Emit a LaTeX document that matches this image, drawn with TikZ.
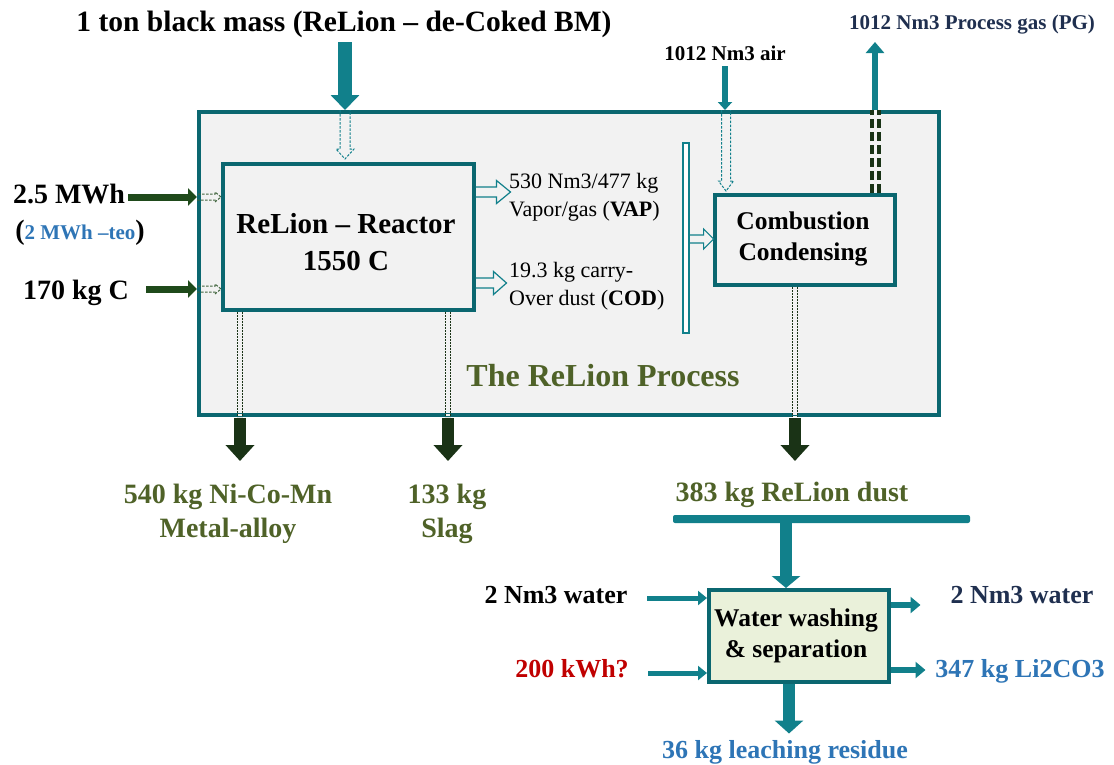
\documentclass[tikz,border=0pt]{standalone}
\usepackage{fontspec}
\setmainfont{Liberation Serif}
\usetikzlibrary{arrows.meta,calc}
\definecolor{tealA}{HTML}{11808B}
\definecolor{tealB}{HTML}{0B6770}
\definecolor{dgreen}{HTML}{1F4A1B}
\definecolor{dkgreen}{HTML}{1A3316}
\definecolor{olive}{HTML}{4F6228}
\definecolor{blueT}{HTML}{2E75B6}
\definecolor{navy}{HTML}{1F2F4F}
\definecolor{redT}{HTML}{C00000}
\definecolor{bgray}{HTML}{F2F2F2}
\definecolor{lgreen}{HTML}{EAF1DA}
\newcommand\hlwarrow[7][]{%
  \begin{scope}[shift={(#2)},rotate=#3]
    \draw[#1] (0,#5) -- ({#4-#7},#5) -- ({#4-#7},#6) -- (#4,0) -- ({#4-#7},-#6) -- ({#4-#7},-#5) -- (0,-#5);
  \end{scope}}
\begin{document}
\begin{tikzpicture}[x=1pt,y=-1pt,
  box/.style={draw=tealB, line width=3.5pt, fill=bgray, inner sep=0pt, anchor=north west},
  big/.style={inner sep=0pt, anchor=base, font=\bfseries\fontsize{28}{33}\selectfont},
  mid/.style={inner sep=0pt, anchor=base, font=\bfseries\fontsize{25.5}{30}\selectfont},
  lab/.style={inner sep=0pt, anchor=base, font=\bfseries\fontsize{21}{25}\selectfont},
  sml/.style={inner sep=0pt, anchor=base west, font=\fontsize{22}{26}\selectfont},
  tealflow/.style={draw=tealA},
  greenflow/.style={draw=dgreen},
  hollowline/.style={draw=tealA, line width=1.2pt},
  dashhollow/.style={draw=tealA, line width=1pt, dash pattern=on 2.5pt off 1.5pt},
  greendash/.style={draw=dgreen!85, line width=1pt, dash pattern=on 2.5pt off 1.5pt},
  ddline/.style={draw=dkgreen, line width=0.8pt, dash pattern=on 2pt off 1pt, double=bgray, double distance=4pt},
]
\useasboundingbox (0,0) rectangle (1114,764);

% boxes
\node[box, minimum width=740pt, minimum height=303pt] (outer) at (197,110) {};
\node[box, minimum width=251pt, minimum height=146pt] (reactor) at (221,162) {};
\node[box, minimum width=180pt, minimum height=90pt] (comb) at (713,193) {};
\node[box, fill=lgreen, minimum width=180pt, minimum height=92pt] (wash) at (707,588) {};
\node[draw=tealA, fill=white, line width=1.2pt, inner sep=0pt, minimum width=6pt, minimum height=190pt] (vbar) at (686,238) {};
\node[fill=tealA, inner sep=0pt, rounded corners=2pt, minimum width=297pt, minimum height=8pt] (hbar) at (821.5,519) {};

% texts in boxes
\node[big, font=\bfseries\fontsize{29}{34}\selectfont] (r1) at (346,233) {ReLion – Reactor};
\node[big, font=\bfseries\fontsize{29}{34}\selectfont] (r2) at (346,270) {1550 C};
\node[mid] (c1) at (803,229) {Combustion};
\node[mid] (c2) at (803,260) {Condensing};
\node[mid] (w1) at (796,626) {Water washing};
\node[mid] (w2) at (796,657) {\&\ separation};
\node[inner sep=0pt, anchor=base, text=olive, font=\bfseries\fontsize{32}{38}\selectfont] (proc) at (603,386) {The ReLion Process};

% outside texts
\node[big, font=\bfseries\fontsize{29.5}{35}\selectfont] (title) at (344,31) {1 ton black mass (ReLion – de-Coked BM)};
\node[lab] (air) at (725,60) {1012 Nm3 air};
\node[lab, anchor=base west, text=navy] (pg) at (849,29) {1012 Nm3 Process gas (PG)};
\node[big] (mwh) at (69,203) {2.5 MWh};
\node[inner sep=0pt, anchor=base, font=\bfseries\fontsize{28}{33}\selectfont] (teo) at (80,239) {({\color{blueT}\fontsize{21}{25}\selectfont 2 MWh –teo})};
\node[big] (carb) at (76,299) {170 kg C};
\node[sml] (v1) at (509,188) {530 Nm3/477 kg};
\node[sml] (v2) at (509,216) {Vapor/gas (\textbf{VAP})};
\node[sml] (d1) at (509,277) {19.3 kg carry-};
\node[sml] (d2) at (509,305) {Over dust (\textbf{COD})};
\node[big, text=olive] (m1) at (228,503) {540 kg Ni-Co-Mn};
\node[big, text=olive] (m2) at (228,537) {Metal-alloy};
\node[big, text=olive] (s1) at (447,503) {133 kg};
\node[big, text=olive] (s2) at (447,537) {Slag};
\node[big, text=olive] (dust) at (792,501) {383 kg ReLion dust};
\node[big, font=\bfseries\fontsize{26}{31}\selectfont] (win) at (556,603) {2 Nm3 water};
\node[big, font=\bfseries\fontsize{26}{31}\selectfont, text=redT] (kwh) at (572,677) {200 kWh?};
\node[big, font=\bfseries\fontsize{26}{31}\selectfont, text=navy] (wout) at (1022,603) {2 Nm3 water};
\node[big, font=\bfseries\fontsize{26}{31}\selectfont, text=blueT] (li) at (1020,677) {347 kg Li2CO3};
\node[big, font=\bfseries\fontsize{26}{31}\selectfont, text=blueT] (res) at (785,758) {36 kg leaching residue};

% coordinates for free ends
\coordinate (pgtop) at (875,42);
\coordinate (inA) at (128,197);
\coordinate (inB) at (146,289);

% solid thick arrows
\draw[tealflow, line width=14pt, -{Triangle[width=28pt,length=15pt]}] (title.south -| 345,0) ++(0,5) -- (outer.north -| 345,0);
\draw[tealflow, line width=6pt, -{Triangle[width=14pt,length=8pt]}] (air.south) ++(0,6) -- (air.south |- outer.north);
\draw[tealflow, line width=6pt, -{Triangle[width=18pt,length=11pt]}] (outer.north -| pgtop) -- (pgtop);
\draw[greenflow, line width=7pt, -{Triangle[width=17pt,length=9pt]}] (inA) -- (inA -| outer.west);
\draw[greenflow, line width=7pt, -{Triangle[width=17pt,length=9pt]}] (inB) -- (inB -| outer.west);
\foreach \xx in {240,448,795}{
  \draw[draw=dkgreen, line width=12pt, -{Triangle[width=28pt,length=16pt]}] (outer.south -| \xx,0) ++(0,1.5) -- ++(0,43);
}
\draw[tealflow, line width=12pt, -{Triangle[width=28pt,length=12pt]}] (hbar.south -| 786,0) -- (wash.north -| 786,0);
\draw[tealflow, line width=5pt, -{Triangle[width=14pt,length=9pt]}] (647,598) -- (wash.west |- 0,598);
\draw[tealflow, line width=5pt, -{Triangle[width=14pt,length=9pt]}] (648,673) -- (wash.west |- 0,673);
\draw[tealflow, line width=6pt, -{Triangle[width=16pt,length=10pt]}] (wash.east |- 0,605) -- ++(30,0);
\draw[tealflow, line width=6pt, -{Triangle[width=16pt,length=10pt]}] (wash.east |- 0,670) -- ++(35,0);
\draw[tealflow, line width=12pt, -{Triangle[width=28pt,length=13pt]}] (wash.south -| 789,0) -- ++(0,50);

% dashed double connectors
\draw[draw=dkgreen, line width=4pt, dash pattern=on 9pt off 4pt, double=bgray, double distance=3pt] (comb.north -| pgtop) -- (outer.north -| pgtop);
\draw[ddline] (reactor.south -| 240,0) -- (outer.south -| 240,0);
\draw[ddline] (reactor.south -| 448,0) -- (outer.south -| 448,0);
\draw[ddline] (comb.south -| 795,0) -- (outer.south -| 795,0);

% hollow arrows
\hlwarrow[dashhollow]{outer.north -| 345,0}{-90}{49}{5}{9}{10}
\hlwarrow[dashhollow]{outer.north -| 726,0}{-90}{81}{4.5}{7.5}{10}
\hlwarrow[hollowline]{reactor.east |- 0,192}{0}{35}{5}{11.5}{14}
\hlwarrow[hollowline]{reactor.east |- 0,283}{0}{31}{5}{11.5}{13}
\hlwarrow[hollowline]{vbar.east |- 0,239}{0}{24}{4}{10}{10}
\hlwarrow[greendash]{outer.west |- inA}{0}{24}{3}{5}{6}
\hlwarrow[greendash]{outer.west |- inB}{0}{24}{3}{5}{6}
\end{tikzpicture}
\end{document}
